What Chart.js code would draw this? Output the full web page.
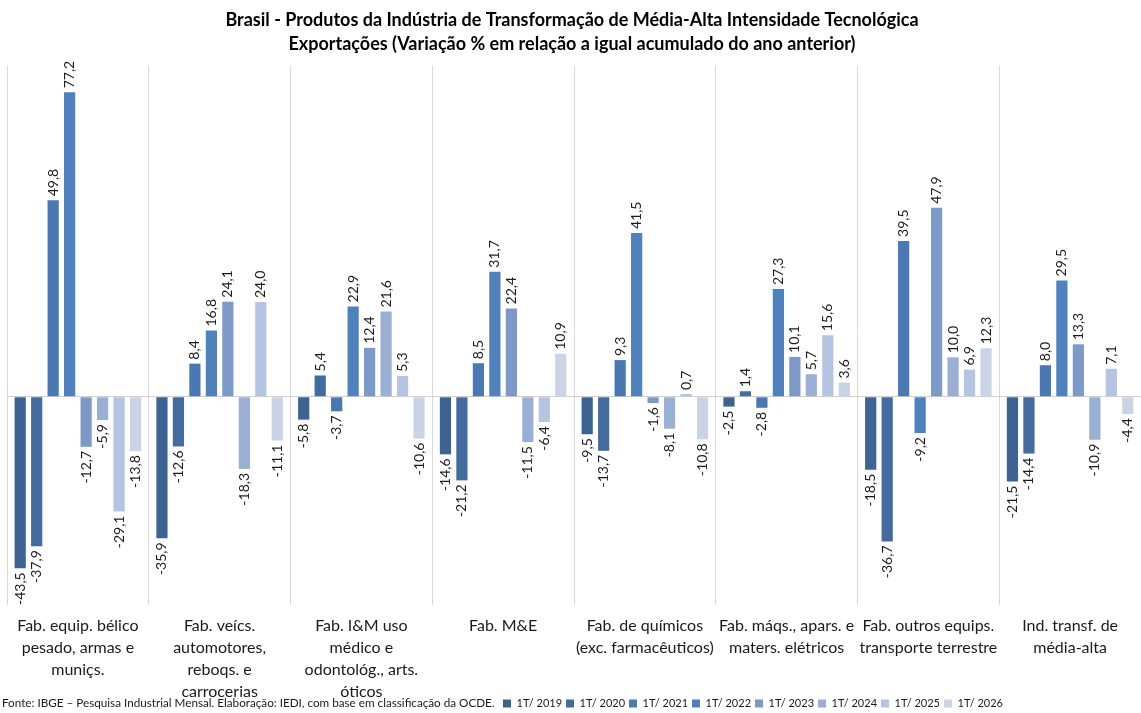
<!DOCTYPE html>
<html>
<head>
<meta charset="utf-8">
<script src="https://cdn.jsdelivr.net/npm/chart.js@4.4.1/dist/chart.umd.min.js"></script>
<style>
    html, body { margin: 0; padding: 0; background: #fff; }
    #wrap { width: 1141px; height: 713px; }
</style>
</head>
<body>
<div id="wrap"><canvas id="chart"></canvas></div>
<script>
const categories = [
    ['Fab. equip. bélico', 'pesado, armas e', 'muniçs.'],
    ['Fab. veícs.', 'automotores,', 'reboqs. e', 'carrocerias'],
    ['Fab. I&M uso', 'médico e', 'odontológ., arts.', 'óticos'],
    ['Fab. M&E'],
    ['Fab. de químicos', '(exc. farmacêuticos)'],
    ['Fab. máqs., apars. e', 'maters. elétricos'],
    ['Fab. outros equips.', 'transporte terrestre'],
    ['Ind. transf. de', 'média-alta']
];

const seriesLabels = ['1T/ 2019', '1T/ 2020', '1T/ 2021', '1T/ 2022', '1T/ 2023', '1T/ 2024', '1T/ 2025', '1T/ 2026'];

const t2019 = [-43.5, -35.9, -5.8, -14.6, -9.5, -2.5, -18.5, -21.5];
const t2020 = [-37.9, -12.6, 5.4, -21.2, -13.7, 1.4, -36.7, -14.4];
const t2021 = [49.8, 8.4, -3.7, 8.5, 9.3, -2.8, 39.5, 8.0];
const t2022 = [77.2, 16.8, 22.9, 31.7, 41.5, 27.3, -9.2, 29.5];
const t2023 = [-12.7, 24.1, 12.4, 22.4, -1.6, 10.1, 47.9, 13.3];
const t2024 = [-5.9, -18.3, 21.6, -11.5, -8.1, 5.7, 10.0, -10.9];
const t2025 = [-29.1, 24.0, 5.3, -6.4, 0.7, 15.6, 6.9, 7.1];
const t2026 = [-13.8, -11.1, -10.6, 10.9, -10.8, 3.6, 12.3, -4.4];

const seriesColors = ['#3D6392', '#436BA0', '#4A78B2', '#4F81BD', '#7D99C7', '#9BAFD4', '#B5C4E0', '#CBD4E6'];

const fontName = 'Lato, "Open Sans", sans-serif';

// etiquetas verticais em cima/baixo de cada barra
const barLabels = {
    id: 'barLabels',
    afterDatasetsDraw(chart) {
        const ctx = chart.ctx;
        ctx.save();
        ctx.font = '14px ' + fontName;
        ctx.fillStyle = '#1a1a1a';
        ctx.textBaseline = 'middle';
        chart.data.datasets.forEach((ds, i) => {
            const meta = chart.getDatasetMeta(i);
            meta.data.forEach((bar, j) => {
                const v = ds.data[j];
                const txt = v.toFixed(1).replace('.', ',');
                ctx.save();
                if (v >= 0) {
                    ctx.translate(bar.x, bar.y - 4);
                    ctx.rotate(-Math.PI / 2);
                    ctx.textAlign = 'left';
                } else {
                    ctx.translate(bar.x, bar.y + 4);
                    ctx.rotate(-Math.PI / 2);
                    ctx.textAlign = 'right';
                }
                ctx.fillText(txt, 0, 0);
                ctx.restore();
            });
        });
        ctx.restore();
    }
};

const sourceNote = {
    id: 'sourceNote',
    beforeDraw(chart) {
        // legenda termina por volta de x=1000 e um pouco mais abaixo, como no original
        if (chart.legend && !chart.legend._moved) {
            chart.legend.right = 1007;
            chart.legend.top += 6;
            chart.legend.bottom += 6;
            chart.legend._moved = true;
        }
    },
    afterDraw(chart) {
        const ctx = chart.ctx;
        ctx.save();
        ctx.font = '11.7px ' + fontName;
        ctx.fillStyle = '#1a1a1a';
        ctx.textBaseline = 'middle';
        ctx.textAlign = 'left';
        ctx.fillText('Fonte: IBGE \u2013 Pesquisa Industrial Mensal. Elaboração: IEDI, com base em classificação da OCDE.', 2, 703);
        ctx.restore();
    }
};

const datasets = [t2019, t2020, t2021, t2022, t2023, t2024, t2025, t2026].map((values, i) => ({
    label: seriesLabels[i],
    data: values,
    backgroundColor: seriesColors[i],
    borderWidth: 0,
    barPercentage: 0.68,
    categoryPercentage: 0.93
}));

const ctx = document.getElementById('chart').getContext('2d');
const chart = new Chart(ctx, {
    type: 'bar',
    data: { labels: categories, datasets: datasets },
    options: {
        responsive: true,
        maintainAspectRatio: false,
        animation: false,
        layout: { padding: { left: 0, right: -3, top: 0, bottom: 0 } },
        plugins: {
            title: {
                display: true,
                text: ['Brasil - Produtos da Indústria de Transformação de Média-Alta Intensidade Tecnológica',
                       'Exportações (Variação % em relação a igual acumulado do ano anterior)'],
                color: '#000',
                font: { family: fontName, size: 18, weight: 'bold', lineHeight: 1.33 },
                padding: { top: 8, bottom: 10 }
            },
            legend: {
                position: 'bottom',
                align: 'end',
                labels: {
                    boxWidth: 8,
                    boxHeight: 8,
                    padding: 4,
                    color: '#1a1a1a',
                    font: { family: fontName, size: 11 }
                }
            },
            tooltip: { enabled: false }
        },
        scales: {
            x: {
                grid: { offset: true, color: '#D9D9D9', drawTicks: false },
                border: { display: false },
                ticks: {
                    color: '#1a1a1a',
                    font: { family: fontName, size: 16, lineHeight: 1.38 },
                    padding: 10,
                    maxRotation: 0,
                    autoSkip: false
                },
                afterFit(s) {
                    s.height = 83;
                    s._computeLabelArea = () => undefined; // nao cortar a 4a linha
                }
            },
            y: {
                min: -52.8,
                max: 83.9,
                ticks: { display: false, stepSize: 10 },
                border: { display: false },
                grid: {
                    drawTicks: false,
                    color: c => (c.tick && c.tick.value === 0) ? '#D0D0D0' : 'rgba(0,0,0,0)'
                },
                afterFit(s) { s.width = 7; }
            }
        }
    },
    plugins: [barLabels, sourceNote]
});
</script>
</body>
</html>
